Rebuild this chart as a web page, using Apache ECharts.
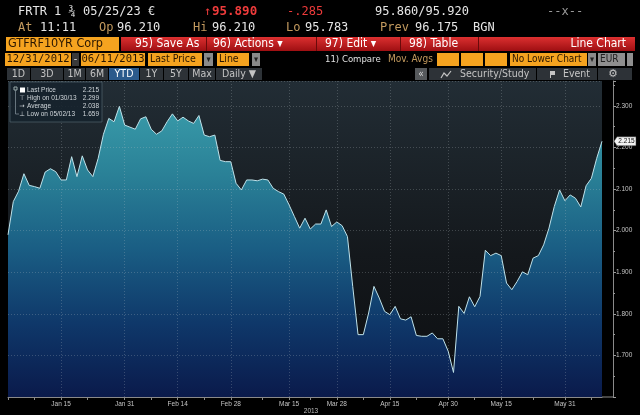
<!DOCTYPE html>
<html><head><meta charset="utf-8">
<script src="https://cdn.jsdelivr.net/npm/echarts@6/dist/echarts.min.js"></script>
<style>html,body{margin:0;padding:0;background:#000;}#c{width:640px;height:415px;}</style>
</head><body><div id="c"></div>
<script>
// ---- data ----
const dates = ['12/31',
'01/02','01/03','01/04','01/07','01/08','01/09','01/10','01/11','01/14','01/15','01/16','01/17','01/18','01/21','01/22','01/23','01/24','01/25','01/28','01/29','01/30','01/31',
'02/01','02/04','02/05','02/06','02/07','02/08','02/11','02/12','02/13','02/14','02/15','02/18','02/19','02/20','02/21','02/22','02/25','02/26','02/27','02/28',
'03/01','03/04','03/05','03/06','03/07','03/08','03/11','03/12','03/13','03/14','03/15','03/18','03/19','03/20','03/21','03/22','03/25','03/26','03/27','03/28',
'04/02','04/03','04/04','04/05','04/08','04/09','04/10','04/11','04/12','04/15','04/16','04/17','04/18','04/19','04/22','04/23','04/24','04/25','04/26','04/29','04/30',
'05/02','05/03','05/06','05/07','05/08','05/09','05/10','05/13','05/14','05/15','05/16','05/17','05/20','05/21','05/22','05/23','05/24','05/27','05/28','05/29','05/30','05/31',
'06/03','06/04','06/05','06/06','06/07','06/10','06/11'];
const prices = [1.990,
2.070,2.095,2.137,2.109,2.106,2.102,2.141,2.149,2.142,2.122,2.122,2.178,2.130,2.180,2.146,2.130,2.174,2.232,2.270,2.262,2.299,2.254,
2.249,2.244,2.269,2.274,2.244,2.232,2.240,2.262,2.281,2.264,2.273,2.264,2.258,2.277,2.230,2.226,2.230,2.169,2.166,2.166,
2.114,2.098,2.122,2.122,2.120,2.124,2.122,2.102,2.094,2.088,2.062,2.034,2.006,2.030,2.004,2.016,2.016,2.050,2.010,2.021,
2.012,1.986,1.866,1.750,1.750,1.802,1.866,1.838,1.806,1.798,1.818,1.788,1.785,1.793,1.748,1.746,1.746,1.754,1.740,1.740,1.710,
1.659,1.818,1.801,1.841,1.817,1.842,1.953,1.940,1.946,1.940,1.874,1.858,1.878,1.901,1.894,1.934,1.940,1.966,2.006,2.058,2.098,2.072,
2.086,2.078,2.057,2.108,2.126,2.174,2.215];
const labelDates = ['01/15','01/31','02/14','02/28','03/15','03/28','04/15','04/30','05/15','05/31'];
const labelTexts = ['Jan 15','Jan 31','Feb 14','Feb 28','Mar 15','Mar 28','Apr 15','Apr 30','May 15','May 31'];
const midTickDates = ['12/31','01/08','01/22','02/07','02/21','03/08','03/21','04/08','04/22','05/08','05/23','06/07'];
const legendNames = ['Last Price','High on 01/30/13','Average','Low on 05/02/13'];
const legendValues = ['2.215','2.299','2.038','1.659'];

// ---- chart ----
const chart = echarts.init(document.getElementById('c'), null, {renderer:'canvas'});
const LG = echarts.graphic.LinearGradient;
const MONO = '"DejaVu Sans Mono", monospace';
const COND = '"DejaVu Sans Condensed", "DejaVu Sans", sans-serif';
const G = [];
function txt(x, y, t, fill, size, fam, align, weight, z){
  G.push({type:'text', z: z||10, style:{x:x, y:y, text:t, fill:fill, font:(weight||'normal')+' '+size+'px '+fam, textAlign:align||'left', textVerticalAlign:'middle'}});
}
function rect(x, y, w, h, fill, z, stroke){
  G.push({type:'rect', z: z||5, shape:{x:x,y:y,width:w,height:h}, style:{fill:fill, stroke:stroke||null, lineWidth:stroke?1:0}});
}
const WHITE='#e6e6e6', TAN='#c39a5e', RED='#ee3b3b', ORANGE='#f5a31f', DARKT='#2a1600';
const HS = 12;
// row 1
txt(18,12,'FRTR 1 \u00be 05/25/23 \u20ac',WHITE,HS,MONO);
txt(204,12,'\u2191',RED,HS,MONO);
txt(212,12,'95.890',RED,HS+0.5,MONO,'left','bold');
txt(287,12,'-.285',RED,HS,MONO);
txt(375,12,'95.860/95.920',WHITE,HS,MONO);
txt(547,12,'--x--','#9a9a9a',HS,MONO);
// row 2
txt(18,28,'At',TAN,HS,MONO); txt(40,28,'11:11',WHITE,HS,MONO);
txt(99,28,'Op',TAN,HS,MONO); txt(117,28,'96.210',WHITE,HS,MONO);
txt(193,28,'Hi',TAN,HS,MONO); txt(212,28,'96.210',WHITE,HS,MONO);
txt(286,28,'Lo',TAN,HS,MONO); txt(305,28,'95.783',WHITE,HS,MONO);
txt(380,28,'Prev',TAN,HS,MONO); txt(415,28,'96.175',WHITE,HS,MONO);
txt(473,28,'BGN',WHITE,HS,MONO);
// row 3
rect(6,37,113,14,ORANGE);
txt(8,44,'GTFRF10YR Corp',DARKT,12.5,COND);
rect(121,37,514,14,new LG(0,0,0,1,[{offset:0,color:'#dc3030'},{offset:1,color:'#9e0f12'}]));
[206,316,400,478].forEach(x=>rect(x,37,1,14,'#6a0a0a',6));
txt(135,44,'95) Save As','#ffffff',12,COND);
txt(213,44,'96) Actions \u25be','#ffffff',12,COND);
txt(325,44,'97) Edit \u25be','#ffffff',12,COND);
txt(409,44,'98) Table','#ffffff',12,COND);
txt(626,44,'Line Chart','#ffffff',12,COND,'right');
// row 4
rect(5,53,66,13,ORANGE); txt(38,59.5,'12/31/2012',DARKT,10.5,MONO,'center');
rect(72,53,7,13,'#3a3a3a'); txt(75.5,59.5,'-','#dddddd',10,MONO,'center');
rect(81,53,64,13,ORANGE); txt(113,59.5,'06/11/2013',DARKT,10.5,MONO,'center');
rect(148,53,54,13,ORANGE); txt(150,59.5,'Last Price',DARKT,10.5,COND);
rect(204,53,9,13,'#8a8a8a'); txt(208.5,59.5,'\u25be','#222',9,COND,'center');
rect(217,53,32,13,ORANGE); txt(219,59.5,'Line',DARKT,10.5,COND);
rect(252,53,8,13,'#8a8a8a'); txt(256,59.5,'\u25be','#222',9,COND,'center');
txt(325,59.5,'11) Compare','#e0e0e0',9.5,COND);
txt(388,59.5,'Mov. Avgs',TAN,10,COND);
rect(437,53,22,13,ORANGE); rect(461,53,22,13,ORANGE); rect(485,53,22,13,ORANGE);
rect(510,53,77,13,ORANGE); txt(512,59.5,'No Lower Chart',DARKT,10,COND);
rect(588,53,8,13,'#8a8a8a'); txt(592,59.5,'\u25be','#222',9,COND,'center');
rect(598,53,27,13,'#8f8f8f'); txt(600,59.5,'EUR','#222',10,COND);
rect(627,53,6,13,'#8f8f8f');
// row 5
const btns = [[7,23,'1D'],[31,32,'3D'],[64,21,'1M'],[86,22,'6M'],[109,30,'YTD'],[140,23,'1Y'],[164,24,'5Y'],[189,26,'Max'],[216,46,'Daily \u25bc']];
btns.forEach(b=>{ rect(b[0],68,b[1],12,b[2]==='YTD'?'#2b5a8c':'#2d3237'); txt(b[0]+b[1]/2,74,b[2],b[2]==='YTD'?'#ffffff':'#c4c4c4',10.5,COND,'center'); });
rect(415,68,12,12,'#56595c'); txt(421,74,'\u00ab','#dddddd',10,COND,'center');
rect(429,68,107,12,'#2d3237'); txt(460,74,'Security/Study','#c4c4c4',10.5,COND);
G.push({type:'polyline', z:10, shape:{points:[[441,78],[444,73],[447,76],[451,71]]}, style:{stroke:'#c4c4c4', lineWidth:1.2, fill:null}});
rect(537,68,60,12,'#2d3237'); txt(563,74,'Event','#c4c4c4',10.5,COND);
rect(550,71,5,4,'#c4c4c4',10); rect(550,71,1,7,'#c4c4c4',10);
rect(598,68,34,12,'#2d3237'); txt(613,74,'\u2699','#c4c4c4',11,'"DejaVu Sans"','center');
// legend box
rect(10,82,92,40,'rgba(22,34,44,0.88)',20,'rgba(90,110,120,0.6)');
const legY = [90.5,98.3,106.5,114];
legendNames.forEach((n,i)=>{
  txt(27,legY[i],n,'#d0d6da',6.5,'"Liberation Sans", Arial, sans-serif','left','normal',22);
  txt(99,legY[i],legendValues[i],'#d0d6da',6.5,'"Liberation Sans", Arial, sans-serif','right','normal',22);
});
rect(20,87.5,5,5,'#ffffff',22);
rect(14,87,3,3,'rgba(0,0,0,0)',22,'#9aa');
G.push({type:'polyline',z:22,shape:{points:[[15.5,90],[15.5,114],[19,114]]},style:{stroke:'#8a9aa2',lineWidth:0.7,fill:null}});
txt(22,98.3,'\u22a4','#d0d6da',6.5,'"DejaVu Sans"','center','normal',22);
txt(22,106.5,'\u2192','#d0d6da',6.5,'"DejaVu Sans"','center','normal',22);
txt(22,114,'\u22a5','#d0d6da',6.5,'"DejaVu Sans"','center','normal',22);
// right axis bottom line filler and year label
G.push({type:'line',z:10,shape:{x1:602,y1:397,x2:613,y2:397},style:{stroke:'#8a8a8a',lineWidth:1}});
txt(311,411.5,'2013','#bfbfbf',6.5,'"Liberation Sans", Arial, sans-serif','center');

const option = {
  backgroundColor:'#000000',
  animation:false,
  grid:{left:8, right:38, top:81, bottom:18, show:true, borderWidth:0,
    backgroundColor:new LG(0,81,0,397,[{offset:0,color:'#222d35'},{offset:0.55,color:'#14181c'},{offset:1,color:'#0c0e11'}],true)},
  xAxis:{type:'category', data:dates, boundaryGap:false, z:3,
    axisLine:{lineStyle:{color:'#8a8a8a',width:1}},
    axisTick:{length:3, lineStyle:{color:'#8a8a8a'}, interval:(i,v)=>labelDates.includes(v)||midTickDates.includes(v)},
    axisLabel:{interval:(i,v)=>labelDates.includes(v), formatter:v=>labelTexts[labelDates.indexOf(v)]||'', color:'#c4c4c4', fontSize:6.5, fontFamily:'"Liberation Sans", Arial, sans-serif', margin:4},
    splitLine:{show:true, interval:(i,v)=>labelDates.includes(v), lineStyle:{color:'rgba(190,200,205,0.25)', type:[1,2], width:1}}},
  yAxis:{type:'value', position:'right', offset:11, min:1.6, max:2.36, interval:0.1, z:3,
    axisLine:{show:true, lineStyle:{color:'#8a8a8a',width:1}},
    axisTick:{show:true, length:3, lineStyle:{color:'#9a9a9a'}},
    minorTick:{show:true, splitNumber:2, length:2, lineStyle:{color:'#9a9a9a'}},
    axisLabel:{showMinLabel:false, showMaxLabel:false, formatter:v=>v.toFixed(3), color:'#c4c4c4', fontSize:6.5, fontFamily:'"Liberation Sans", Arial, sans-serif', margin:3},
    splitLine:{show:true, lineStyle:{color:'rgba(190,200,205,0.25)', type:[1,2], width:1}}},
  series:[{type:'line', data:prices, symbol:'none', z:2,
    lineStyle:{color:'#bfe2ea', width:1},
    areaStyle:{opacity:1, color:new LG(0,100,0,397,[{offset:0,color:'#3a9dab'},{offset:0.25,color:'#2a8197'},{offset:0.5,color:'#1a5e84'},{offset:0.75,color:'#0f386a'},{offset:1,color:'#0a1a4b'}],true)}}],
  graphic:{elements:G}
};
chart.setOption(option);
// price tag on the right axis for the last value
const lastVal = prices[prices.length-1];
const py = chart.convertToPixel({yAxisIndex:0}, lastVal);
chart.setOption({graphic:{elements:G.concat([
  {type:'polygon', z:30, shape:{points:[[614,py],[617,py-4.5],[636,py-4.5],[636,py+4.5],[617,py+4.5]]}, style:{fill:'#f2f2f2', stroke:'#333', lineWidth:0.5}},
  {type:'text', z:31, style:{x:626.5, y:py, text:lastVal.toFixed(3), fill:'#111', font:'6.5px "Liberation Sans", Arial, sans-serif', textAlign:'center', textVerticalAlign:'middle'}}
])}});
</script>
</body></html>
